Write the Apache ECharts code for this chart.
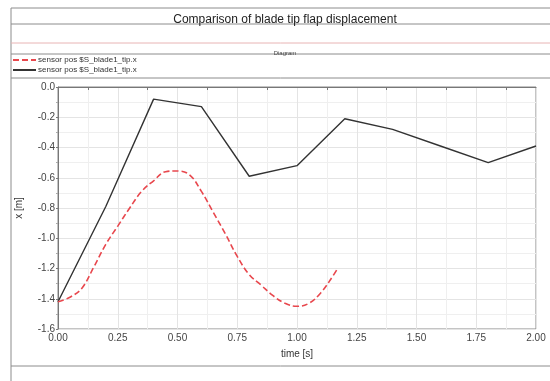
<!DOCTYPE html>
<html>
<head>
<meta charset="utf-8">
<script src="https://cdn.jsdelivr.net/npm/echarts@6/dist/echarts.min.js"></script>
<style>
  html, body { margin: 0; padding: 0; background: #fff; }
  #chart { width: 550px; height: 381px; }
</style>
</head>
<body>
<div id="chart"></div>
<script>
// black solid curve, sampled at its corner points
const blackTime = [0, 0.2, 0.4, 0.6, 0.8, 1.0, 1.2, 1.4, 1.6, 1.8, 2.0];
const blackPos = [-1.42, -0.79, -0.08, -0.13, -0.59, -0.52, -0.21, -0.28, -0.39, -0.5, -0.39];

// red dashed curve
const redTime = [0, 0.05, 0.1, 0.15, 0.2, 0.25, 0.3, 0.35, 0.4, 0.45, 0.5, 0.55, 0.6,
  0.65, 0.7, 0.75, 0.8, 0.85, 0.9, 0.95, 1.0, 1.05, 1.1, 1.15, 1.17];
const redPos = [-1.42, -1.39, -1.33, -1.19, -1.04, -0.92, -0.8, -0.69, -0.62, -0.56, -0.555, -0.58, -0.69,
  -0.83, -0.97, -1.12, -1.24, -1.31, -1.38, -1.43, -1.45, -1.43, -1.36, -1.25, -1.2];

const redName = "sensor pos $S_blade1_tip.x";
const blackName = "sensor pos $S_blade1_tip.x ";

const chart = echarts.init(document.getElementById("chart"));

const frame = "#8c8c8c";
const hline = (y, color) => ({
  type: "line",
  shape: { x1: 11, y1: y, x2: 550, y2: y },
  style: { stroke: color || frame, lineWidth: 1 },
  silent: true,
});

const option = {
  animation: false,
  title: [
    {
      text: "Comparison of blade tip flap displacement",
      left: 280,
      textAlign: "center",
      top: 9,
      textStyle: { fontSize: 12, fontWeight: "normal", color: "#222", fontFamily: "Liberation Sans" },
    },
    {
      text: "Diagram",
      left: 280,
      textAlign: "center",
      top: 45,
      textStyle: { fontSize: 6, fontWeight: "normal", color: "#444", fontFamily: "Liberation Sans" },
    },
  ],
  legend: {
    orient: "vertical",
    left: 12,
    top: 56,
    itemWidth: 23,
    itemHeight: 8,
    itemGap: 2,
    padding: 0,
    itemStyle: { opacity: 0 },
    textStyle: { fontSize: 8, color: "#333", fontFamily: "Liberation Sans", padding: [0, 0, 0, -3] },
    data: [redName, blackName],
  },
  graphic: [
    {
      type: "rect",
      shape: { x: 11, y: 8, width: 545, height: 380 },
      style: { fill: "none", stroke: frame, lineWidth: 1 },
      silent: true,
    },
    hline(24),
    hline(43, "#e8b4b4"),
    hline(54),
    hline(78),
    hline(366),
  ],
  grid: {
    left: 58,
    top: 87,
    right: 14,
    bottom: 52,
    show: true,
    borderColor: "#888",
    borderWidth: 1,
  },
  xAxis: {
    type: "value",
    min: 0,
    max: 2,
    interval: 0.25,
    name: "time [s]",
    nameLocation: "middle",
    nameGap: 20,
    nameTextStyle: { fontSize: 10, color: "#333", fontFamily: "Liberation Sans" },
    axisLine: { lineStyle: { color: "#777" } },
    axisTick: { show: false },
    minorTick: { show: true, splitNumber: 2, length: 3, lineStyle: { color: "#777" } },
    axisLabel: {
      fontSize: 10,
      color: "#444",
      margin: 4,
      fontFamily: "Liberation Sans",
      formatter: (v) => v.toFixed(2),
    },
    splitLine: { show: true, lineStyle: { color: "#e4e4e4" } },
    minorSplitLine: { show: true, lineStyle: { color: "#efefef" } },
  },
  yAxis: {
    type: "value",
    min: -1.6,
    max: 0,
    interval: 0.2,
    name: "x [m]",
    nameLocation: "middle",
    nameGap: 34,
    nameTextStyle: { fontSize: 10, color: "#333", fontFamily: "Liberation Sans" },
    axisLine: { show: true, lineStyle: { color: "#777" } },
    axisTick: { show: true, length: 2, lineStyle: { color: "#777" } },
    minorTick: { show: true, splitNumber: 2, length: 2, lineStyle: { color: "#aaa" } },
    axisLabel: {
      fontSize: 10,
      color: "#444",
      margin: 3,
      fontFamily: "Liberation Sans",
      formatter: (v) => v.toFixed(1),
    },
    splitLine: { show: true, lineStyle: { color: "#e4e4e4" } },
    minorSplitLine: { show: true, lineStyle: { color: "#efefef" } },
  },
  series: [
    {
      name: redName,
      type: "line",
      symbol: "none",
      smooth: 0.4,
      data: redTime.map((t, i) => [t, redPos[i]]),
      lineStyle: { color: "#e8474d", width: 1.6, type: [6, 3] },
      itemStyle: { color: "#e8474d" },
      z: 3,
    },
    {
      name: blackName,
      type: "line",
      symbol: "none",
      data: blackTime.map((t, i) => [t, blackPos[i]]),
      lineStyle: { color: "#333", width: 1.4 },
      itemStyle: { color: "#333" },
      z: 2,
    },
  ],
};

chart.setOption(option);
</script>
</body>
</html>
